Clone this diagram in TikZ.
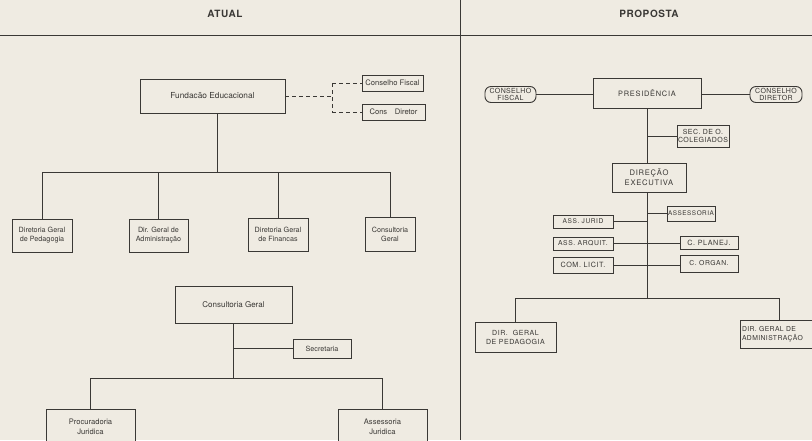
\documentclass[tikz,border=0pt]{standalone}
\usepackage{fontspec}
\setmainfont{TeX Gyre Heros}
\definecolor{paper}{HTML}{EFEBE2}
\definecolor{ink}{HTML}{3A3835}
\tikzset{
  box/.style={draw=ink, line width=0.9pt, fill=paper, inner sep=1pt, align=center, text=ink},
  lsmall/.style={box, font=\fontsize{7.2}{9}\selectfont},
  rsmall/.style={box, font=\fontsize{6.8}{8}\selectfont\addfontfeatures{LetterSpace=8}},
  roundbox/.style={rsmall, rounded corners=6pt, inner sep=0.5pt},
  conn/.style={draw=ink, line width=0.9pt},
  dconn/.style={conn, dashed, dash pattern=on 4pt off 3pt},
  title/.style={font=\bfseries\fontsize{10}{11}\selectfont\addfontfeatures{LetterSpace=6}, text=ink}
}
\begin{document}
\begin{tikzpicture}[x=1pt,y=-1pt]
\useasboundingbox (0,0) rectangle (812,440);
\clip (0,0) rectangle (812,440);
\fill[paper] (0,0) rectangle (812,440);
% frame lines
\draw[conn] (0,35) -- (812,35);
\draw[conn] (460,0) -- (460,440);
\node[title] (tl) at (225,14) {ATUAL};
\node[title] (tr) at (649,14) {PROPOSTA};

% ---- ATUAL ----
\node[lsmall, font=\fontsize{8.3}{10}\selectfont, minimum width=145pt, minimum height=34pt] (fund) at (212.5,96) {Fundacão Educacional};
\node[lsmall, font=\fontsize{7.6}{9}\selectfont, minimum width=61pt, minimum height=16pt] (cf) at (392.5,83) {Conselho Fiscal};
\node[lsmall, font=\fontsize{7.6}{9}\selectfont, minimum width=63pt, minimum height=16pt] (cd) at (393.5,112) {Cons\quad Diretor};
\coordinate (dj) at (332,96);
\draw[dconn] (fund.east) -- (dj);
\draw[dconn] (dj |- cf.west) -- (dj |- cd.west);
\draw[dconn] (dj |- cf.west) -- (cf.west);
\draw[dconn] (dj |- cd.west) -- (cd.west);

\node[lsmall, minimum width=60pt, minimum height=33pt] (dgp) at (42,235.5) {Diretoria Geral\\de Pedagogia};
\node[lsmall, minimum width=59pt, minimum height=33pt] (dga) at (158.5,235.5) {Dir. Geral de\\Administração};
\node[lsmall, minimum width=60pt, minimum height=33pt] (dgf) at (278,234.5) {Diretoria Geral\\de Financas};
\node[lsmall, minimum width=50pt, minimum height=34pt] (cg1) at (390,234) {Consultoria\\Geral};
\coordinate (b1) at (217,172);
\draw[conn] (fund.south -| b1) -- (b1);
\draw[conn] (dgp.north |- b1) -- (cg1.north |- b1);
\draw[conn] (dgp.north |- b1) -- (dgp.north);
\draw[conn] (dga.north |- b1) -- (dga.north);
\draw[conn] (dgf.north |- b1) -- (dgf.north);
\draw[conn] (cg1.north |- b1) -- (cg1.north);

\node[lsmall, font=\fontsize{8}{10}\selectfont, minimum width=117pt, minimum height=37pt] (cg2) at (233.5,304.5) {Consultoria Geral};
\node[lsmall, minimum width=58pt, minimum height=19pt] (sec) at (322,348.5) {Secretaria};
\node[lsmall, font=\fontsize{7.6}{10}\selectfont, minimum width=89pt, minimum height=36pt] (pj) at (90.5,427) {Procuradoria\\Juridica};
\node[lsmall, font=\fontsize{7.6}{10}\selectfont, minimum width=89pt, minimum height=36pt] (aj) at (382.5,427) {Assessoria\\Juridica};
\coordinate (b2) at (233.5,378);
\draw[conn] (cg2.south) -- (b2);
\draw[conn] (cg2.south |- sec.west) -- (sec.west);
\draw[conn] (pj.north |- b2) -- (aj.north |- b2);
\draw[conn] (pj.north |- b2) -- (pj.north);
\draw[conn] (aj.north |- b2) -- (aj.north);

% ---- PROPOSTA ----
\node[rsmall, font=\fontsize{7.4}{9}\selectfont\addfontfeatures{LetterSpace=10}, minimum width=108pt, minimum height=30pt] (pres) at (647,93) {PRESIDÊNCIA};
\node[roundbox, minimum width=51pt, minimum height=16pt, font=\fontsize{7}{6.6}\selectfont\addfontfeatures{LetterSpace=5}] (cfis) at (510.5,94.5) {CONSELHO\\FISCAL};
\node[roundbox, minimum width=52pt, minimum height=16pt, font=\fontsize{7}{6.6}\selectfont\addfontfeatures{LetterSpace=5}] (cdir) at (776,94.5) {CONSELHO\\DIRETOR};
\draw[conn] (cfis.east) -- (pres.west |- cfis.east);
\draw[conn] (pres.east |- cdir.west) -- (cdir.west);

\node[rsmall, minimum width=50pt, minimum height=22pt, font=\fontsize{7}{7.5}\selectfont\addfontfeatures{LetterSpace=6}] (sec2) at (703,136) {SEC. DE O.\\COLEGIADOS};
\node[rsmall, minimum width=74pt, minimum height=29pt, font=\fontsize{7.6}{10}\selectfont\addfontfeatures{LetterSpace=10}] (dex) at (649,177.5) {DIREÇÃO\\EXECUTIVA};
\coordinate (sp) at (647,298);
\draw[conn] (pres.south -| sp) -- (dex.north -| sp);
\draw[conn] (sp |- sec2.west) -- (sec2.west);

\node[rsmall, minimum width=48pt, minimum height=15pt, font=\fontsize{6.4}{8}\selectfont\addfontfeatures{LetterSpace=8}] (asse) at (691,213.5) {ASSESSORIA};
\node[rsmall, minimum width=60pt, minimum height=13pt, font=\fontsize{6.6}{8}\selectfont\addfontfeatures{LetterSpace=8}] (aj2) at (583,221.5) {ASS. JURID};
\node[rsmall, minimum width=60pt, minimum height=13pt] (aa) at (583,243.5) {ASS. ARQUIT.};
\node[rsmall, minimum width=58pt, minimum height=13pt, font=\fontsize{7.2}{8}\selectfont\addfontfeatures{LetterSpace=8}] (cp) at (709,243) {C. PLANEJ.};
\node[rsmall, minimum width=60pt, minimum height=16pt, font=\fontsize{7.2}{8}\selectfont\addfontfeatures{LetterSpace=8}] (cl) at (583,265) {COM. LICIT.};
\node[rsmall, minimum width=58pt, minimum height=17pt] (co) at (709,263.5) {C. ORGAN.};
\draw[conn] (dex.south -| sp) -- (sp);
\draw[conn] (sp |- asse.west) -- (asse.west);
\draw[conn] (aj2.east) -- (sp |- aj2.east);
\draw[conn] (aa.east) -- (cp.west |- aa.east);
\draw[conn] (cl.east) -- (co.west |- cl.east);

\node[rsmall, font=\fontsize{7}{9}\selectfont\addfontfeatures{LetterSpace=8}, minimum width=81pt, minimum height=30pt] (dgp2) at (515.5,337) {DIR.\ \ GERAL\\DE PEDAGOGIA};
\node[rsmall, font=\fontsize{6.8}{9}\selectfont\addfontfeatures{LetterSpace=6}, minimum width=92pt, minimum height=28pt, text width=88pt, align=left] (dga2) at (786,334) {DIR. GERAL DE\\ADMINISTRAÇÃO};
\draw[conn] (dgp2.north |- sp) -- (779,298);
\draw[conn] (dgp2.north |- sp) -- (dgp2.north);
\draw[conn] (779,298) -- (779,320);
\end{tikzpicture}
\end{document}
